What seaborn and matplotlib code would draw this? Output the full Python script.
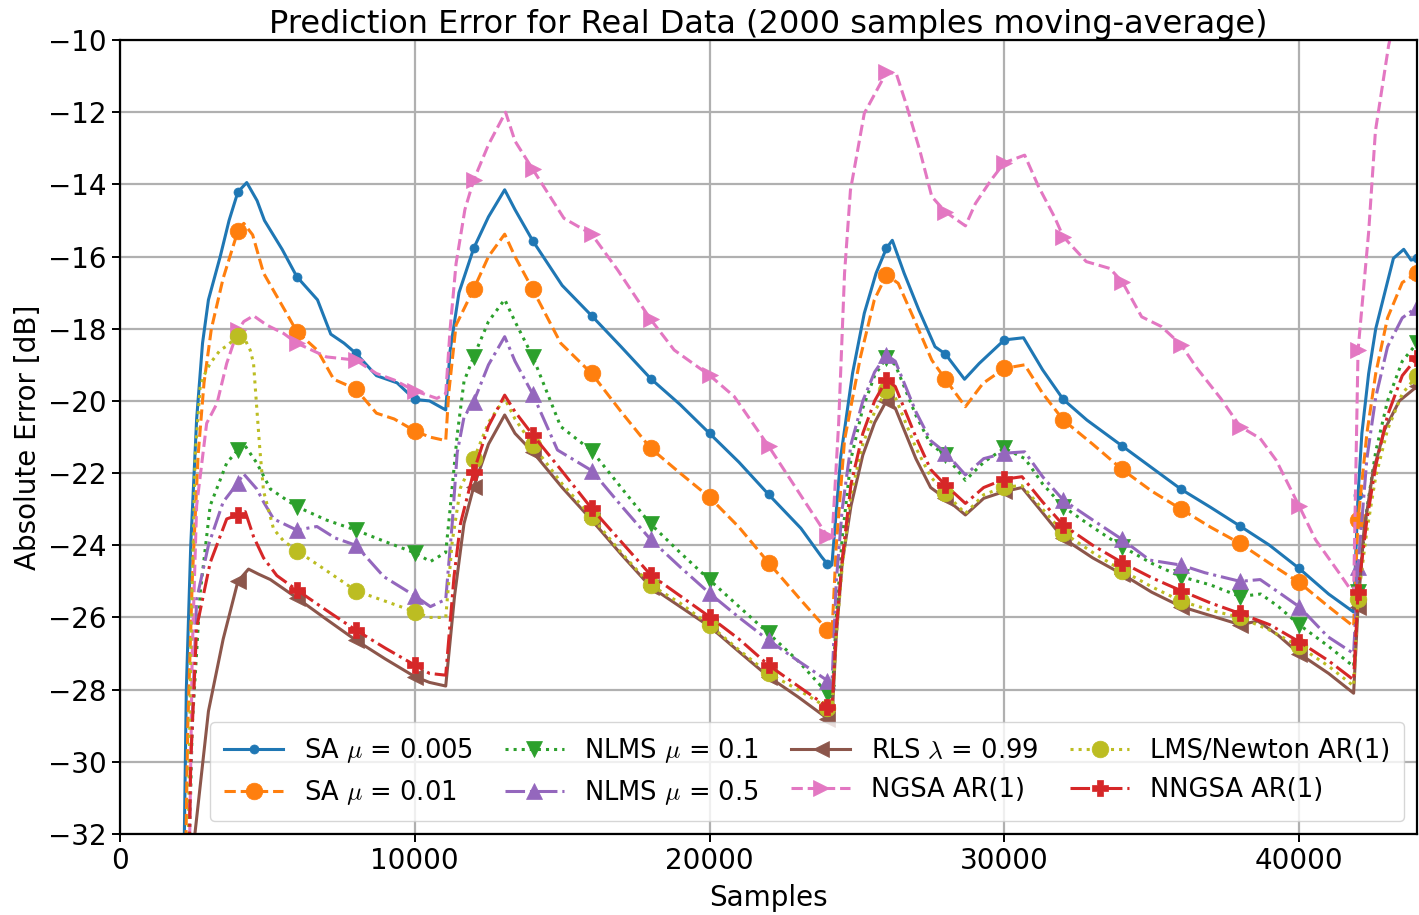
import numpy as np
import pandas as pd
import matplotlib
matplotlib.use("Agg")
import matplotlib.pyplot as plt
import seaborn as sns

# ---------------- data ----------------
sa005_x = [2150, 2250, 2400, 2600, 2800, 3000, 3400, 3700, 4000, 4300, 4650, 4900, 5500, 6000, 6700, 7150, 7600, 8000, 8700, 9400, 10000, 10500, 11050,
           11200, 11500, 12000, 12500, 13050, 13400, 14000, 15000, 16000, 17000, 18000, 19000, 20000, 21000, 22000, 23100, 23800, 24000, 24150,
           24450, 24850, 25250, 25650, 26000, 26200, 26600, 27100, 27650, 28000, 28650, 29150, 30000, 30650, 31300, 32000, 32800, 34000, 35000, 36000, 37000, 38000, 39000, 40000, 41000, 41850,
           42000, 42130, 42360, 42600, 42950, 43200, 43550, 43800, 44000]
sa005_y = [-34, -28, -24, -20.5, -18.4, -17.2, -16.0, -15.0, -14.21, -13.95, -14.45, -15.0, -15.8, -16.56, -17.2, -18.15, -18.4, -18.68, -19.3, -19.5, -19.96, -20.0, -20.25,
           -18.6, -17.0, -15.77, -14.9, -14.15, -14.7, -15.56, -16.8, -17.64, -18.5, -19.38, -20.1, -20.9, -21.7, -22.59, -23.53, -24.32, -24.52, -24.55,
           -21.55, -19.24, -17.57, -16.46, -15.77, -15.55, -16.46, -17.48, -18.5, -18.7, -19.4, -18.96, -18.31, -18.25, -19.14, -19.96, -20.53, -21.25, -21.85, -22.45, -22.95, -23.47, -24.0, -24.64, -25.35, -25.85,
           -22.6, -20.9, -19.24, -18.0, -16.86, -16.05, -15.8, -16.1, -16.05]

sa01_x = [2200, 2300, 2450, 2650, 2850, 3100, 3500, 4000, 4200, 4500, 4870, 5200, 5600, 6000, 6700, 7250, 8000, 8700, 9300, 10000, 10500, 11050,
          11150, 11400, 12000, 12500, 13050, 13400, 14000, 14950, 16000, 17000, 18000, 19000, 20000, 21000, 22000, 23100, 24000, 24150,
          24300, 24580, 25120, 25590, 26000, 26400, 27000, 27540, 28000, 28680, 29280, 30000, 30690, 31300, 32000, 33000, 34000, 35000, 36000, 37000, 38000, 39000, 40000, 41000, 41850,
          42000, 42300, 42600, 43000, 43500, 44000]
sa01_y = [-34, -29, -25, -21.5, -19.5, -18.0, -16.6, -15.29, -15.08, -15.4, -16.46, -16.93, -17.5, -18.08, -18.6, -19.4, -19.67, -20.34, -20.5, -20.83, -21.0, -21.1,
          -19.8, -17.9, -16.9, -16.0, -15.38, -16.0, -16.91, -18.4, -19.24, -20.3, -21.31, -22.0, -22.67, -23.5, -24.48, -25.52, -26.35, -26.5,
          -24.0, -21.08, -18.78, -17.2, -16.51, -16.74, -17.85, -18.87, -19.4, -20.16, -19.51, -19.1, -19.0, -19.79, -20.53, -21.2, -21.9, -22.5, -23.0, -23.5, -23.95, -24.5, -25.03, -25.7, -26.25,
          -23.3, -20.9, -19.24, -17.7, -16.72, -16.46]

nlms01_x = [2250, 2450, 2720, 3060, 3620, 4000, 4190, 4640, 5100, 5660, 6000, 7000, 8000, 9000, 10000, 10530, 11050,
            11210, 11440, 11670, 12000, 12500, 13050, 13400, 14000, 14950, 16000, 17000, 18000, 19000, 20000, 21000, 22000, 23000, 24000, 24150,
            24300, 24500, 24800, 25200, 25600, 26000, 26300, 27000, 27500, 28000, 28680, 29300, 30000, 30700, 31300, 32000, 33000, 34000, 35000, 36000, 37000, 38000, 38700, 39300, 40000, 41000, 41850,
            42000, 42300, 42600, 43000, 43500, 44000]
nlms01_y = [-36, -29, -25.32, -22.9, -21.72, -21.36, -21.18, -21.72, -22.44, -22.75, -22.93, -23.3, -23.58, -23.9, -24.21, -24.45, -24.2,
            -22.9, -20.94, -19.46, -18.77, -17.8, -17.19, -17.8, -18.77, -20.71, -21.38, -22.4, -23.41, -24.2, -24.96, -25.7, -26.44, -27.2, -28.1, -28.3,
            -26.0, -23.8, -21.6, -20.2, -19.3, -18.8, -19.0, -20.4, -21.2, -21.5, -22.2, -21.7, -21.31, -21.6, -22.3, -22.93, -23.5, -24.04, -24.5, -24.87, -25.1, -25.42, -25.35, -25.7, -26.2, -26.8, -27.36,
            -25.3, -23.0, -21.4, -20.0, -18.9, -18.4]

nlms05_x = [2250, 2400, 2600, 3000, 3500, 4000, 4190, 4640, 4870, 5210, 6000, 6680, 7300, 8000, 8950, 10000, 10530, 11050,
            11270, 11440, 11670, 12000, 12500, 13050, 13400, 14000, 14840, 16000, 17000, 18000, 19000, 20000, 21000, 22000, 23000, 24000, 24150,
            24300, 24500, 24800, 25200, 25600, 26000, 26300, 27000, 27500, 28000, 28680, 29300, 30000, 30690, 31300, 32000, 33000, 34000, 34930, 36000, 36800, 38000, 38680, 39300, 40000, 40970, 41850,
            42000, 42300, 42600, 43000, 43500, 44000]
nlms05_y = [-36, -30, -25.5, -24.0, -22.8, -22.27, -22.02, -22.44, -22.8, -23.27, -23.58, -23.48, -23.8, -24.0, -24.87, -25.4, -25.7, -25.5,
            -23.4, -21.43, -20.45, -20.02, -19.0, -18.22, -18.9, -19.81, -21.36, -21.93, -22.9, -23.84, -24.6, -25.33, -26.0, -26.63, -27.2, -27.75, -27.9,
            -25.0, -23.0, -21.2, -20.0, -19.2, -18.73, -18.9, -20.3, -21.1, -21.43, -22.05, -21.6, -21.45, -21.41, -22.1, -22.75, -23.3, -23.84, -24.41, -24.55, -24.76, -25.0, -24.95, -25.3, -25.7, -26.53, -27.0,
            -24.6, -21.6, -19.9, -18.5, -17.7, -17.4]

rls_x = [2350, 2500, 3000, 3500, 4000, 4360, 4700, 5100, 6000, 7000, 8000, 9000, 10000, 10500, 11050,
         11350, 11670, 12000, 12500, 13050, 13400, 14000, 15000, 16000, 17000, 18000, 19000, 20000, 21000, 22000, 23000, 24000, 24150,
         24300, 24500, 24800, 25200, 25600, 26000, 26300, 27000, 27500, 28000, 28680, 29300, 30000, 30600, 31300, 32000, 33000, 34000, 35000, 36000, 37000, 38000, 38600, 39300, 40000, 41000, 41850,
         42000, 42200, 42500, 42900, 43400, 44000]
rls_y = [-36, -32.3, -28.6, -26.6, -25.0, -24.66, -24.8, -24.95, -25.46, -26.05, -26.63, -27.15, -27.64, -27.8, -27.9,
         -25.4, -23.4, -22.38, -21.2, -20.39, -20.9, -21.41, -22.4, -23.3, -24.25, -25.15, -25.7, -26.25, -26.95, -27.64, -28.2, -28.8, -28.9,
         -26.5, -24.5, -22.9, -21.5, -20.6, -20.0, -20.2, -21.6, -22.4, -22.7, -23.16, -22.7, -22.51, -22.4, -23.1, -23.81, -24.35, -24.8, -25.3, -25.7, -25.95, -26.2, -26.1, -26.5, -27.0, -27.55, -28.1,
         -25.7, -23.6, -22.0, -20.8, -20.0, -19.6]

ngsa_x = [2300, 2450, 2600, 2940, 3290, 3620, 4000, 4200, 4530, 4980, 5550, 6000, 7000, 8000, 8700, 9300, 10000, 10750, 11050,
          11200, 11400, 11700, 12000, 12500, 13080, 13400, 14000, 15060, 16000, 16880, 18000, 18800, 20000, 20840, 22000, 23000, 24000, 24150,
          24380, 24580, 24780, 25250, 26000, 26330, 26660, 27130, 27540, 28000, 28680, 29020, 29550, 30000, 30690, 31160, 31700, 32000, 32780, 33580, 34000, 34660, 35330, 36000, 36540, 37340, 38000, 38680, 39220, 40000, 40560, 41370, 41850,
          42000, 42360, 42590, 43040, 43500, 44000]
ngsa_y = [-36, -27, -22.9, -20.62, -20.07, -18.96, -18.04, -17.8, -17.64, -17.9, -18.13, -18.4, -18.78, -18.87, -19.24, -19.42, -19.72, -19.93, -19.8,
          -18.0, -16.2, -14.7, -13.88, -12.9, -12.0, -12.8, -13.58, -14.94, -15.38, -16.37, -17.74, -18.59, -19.29, -19.88, -21.25, -22.5, -23.75, -23.9,
          -20.62, -16.46, -14.16, -12.03, -10.9, -10.92, -11.75, -13.05, -14.34, -14.76, -15.15, -14.53, -13.88, -13.4, -13.19, -14.06, -14.9, -15.45, -16.14, -16.33, -16.7, -17.67, -17.94, -18.45, -19.1, -19.93, -20.71, -21.04, -21.64, -22.91, -23.85, -24.78, -25.35,
          -18.6, -15.32, -12.52, -10.14, -8.5, -7.5]

lmsn_x = [2250, 2400, 2550, 2720, 2830, 3060, 3400, 3620, 4000, 4150, 4420, 4530, 4640, 4750, 4870, 5210, 5550, 6000, 7000, 8000, 9000, 10000, 10500, 11050,
          11270, 11550, 12000, 12500, 13050, 13400, 14000, 15000, 16000, 17000, 18000, 19000, 20000, 21000, 22000, 23000, 24000, 24150,
          24300, 24500, 24800, 25200, 25600, 26000, 26300, 27000, 27500, 28000, 28680, 29300, 30000, 30600, 31300, 32000, 33000, 34000, 35000, 36000, 37000, 38000, 39000, 40000, 41000, 41850,
          42000, 42300, 42600, 43000, 43500, 44000]
lmsn_y = [-36, -27, -21.5, -19.6, -19.33, -18.96, -18.59, -18.48, -18.2, -18.15, -18.6, -18.96, -20.2, -21.4, -22.5, -23.55, -23.88, -24.15, -24.7, -25.26, -25.55, -25.84, -26.0, -26.0,
          -23.9, -22.41, -21.62, -20.6, -19.93, -20.5, -21.22, -22.3, -23.21, -24.2, -25.1, -25.6, -26.21, -26.9, -27.55, -28.0, -28.5, -28.7,
          -26.5, -24.6, -22.6, -21.2, -20.3, -19.7, -19.9, -21.3, -22.1, -22.56, -23.12, -22.6, -22.38, -22.35, -23.0, -23.65, -24.2, -24.7, -25.15, -25.55, -25.8, -26.0, -26.35, -26.8, -27.35, -27.9,
          -25.5, -23.6, -22.1, -20.8, -19.8, -19.3]

nngsa_x = [2270, 2400, 2600, 3060, 3620, 4000, 4250, 4530, 4870, 5320, 6000, 7000, 8000, 9000, 10000, 10500, 11050,
           11330, 11550, 12000, 12500, 13050, 13400, 14000, 15000, 16000, 17000, 18000, 19000, 20000, 21000, 22000, 23000, 24000, 24150,
           24300, 24500, 24800, 25200, 25600, 26000, 26300, 27000, 27500, 28000, 28680, 29300, 30000, 30600, 31300, 32000, 33000, 34000, 35000, 36000, 37000, 38000, 39000, 40000, 41000, 41850,
           42000, 42300, 42600, 43000, 43500, 44000]
nngsa_y = [-36, -30, -26.28, -24.48, -23.27, -23.16, -23.07, -23.76, -24.35, -24.84, -25.24, -25.8, -26.35, -26.85, -27.32, -27.55, -27.6,
           -24.88, -23.4, -21.96, -20.7, -19.84, -20.3, -20.94, -21.95, -22.98, -23.9, -24.82, -25.4, -25.98, -26.6, -27.32, -27.9, -28.47, -28.6,
           -26.3, -24.4, -22.3, -20.9, -20.0, -19.42, -19.6, -21.0, -21.9, -22.33, -22.84, -22.4, -22.17, -22.1, -22.8, -23.44, -24.0, -24.48, -24.9, -25.26, -25.6, -25.89, -26.2, -26.67, -27.2, -27.73,
           -25.3, -23.3, -21.8, -20.4, -19.3, -18.8]

labels = [r"SA $\mu$ = 0.005", r"SA $\mu$ = 0.01", r"NLMS $\mu$ = 0.1", r"NLMS $\mu$ = 0.5",
          r"RLS $\lambda$ = 0.99", "NGSA AR(1)", "LMS/Newton AR(1)", "NNGSA AR(1)"]
xs = [sa005_x, sa01_x, nlms01_x, nlms05_x, rls_x, ngsa_x, lmsn_x, nngsa_x]
ys = [sa005_y, sa01_y, nlms01_y, nlms05_y, rls_y, ngsa_y, lmsn_y, nngsa_y]

colors = ["#1f77b4", "#ff7f0e", "#2ca02c", "#9467bd", "#8c564b", "#e377c2", "#bcbd22", "#d62728"]
styles = ["-", "--", ":", "-.", "-", "--", ":", "-."]
markers = ["o", "o", "v", "^", "<", ">", "o", "P"]
msizes = [6.5, 12, 12, 12, 12, 12, 12, 12]

# ---------------- figure ----------------
plt.rcParams["font.family"] = ["DejaVu Sans"]
plt.rcParams["mathtext.fontset"] = "cm"
plt.rcParams["axes.linewidth"] = 1.6

fig = plt.figure(figsize=(14.19, 9.15), dpi=100)
ax = fig.add_axes([120 / 1419, 1 - 834 / 915, (1417 - 120) / 1419, (834 - 40) / 915])

for x, y, lab, c, ls, mk, ms in zip(xs, ys, labels, colors, styles, markers, msizes):
    df = pd.DataFrame({"x": x, "y": y})
    idx = [i for i, v in enumerate(x) if v % 2000 == 0 and v >= 4000]
    sns.lineplot(data=df, x="x", y="y", ax=ax, color=c, linestyle=ls, linewidth=2.2,
                 marker=mk, markersize=ms, markevery=idx, markeredgecolor=c,
                 markeredgewidth=0.5, label=lab, estimator=None, sort=False)

ax.set_xlim(0, 44000)
ax.set_ylim(-32, -10)
ax.set_xticks([0, 10000, 20000, 30000, 40000])
ax.set_yticks(np.arange(-32, -9, 2))
ax.grid(True, color="#b0b0b0", linewidth=1.6)
ax.set_axisbelow(True)
ax.tick_params(axis="both", labelsize=20, length=6, width=1.4)

ax.set_title("Prediction Error for Real Data (2000 samples moving-average)", fontsize=23, pad=4)
ax.set_xlabel("Samples", fontsize=20, labelpad=6)
ax.set_ylabel("Absolute Error [dB]", fontsize=20, labelpad=4)

h, l = ax.get_legend_handles_labels()
ax.legend(h, l, ncol=4, loc="lower right", fontsize=18.5, columnspacing=1.25,
          handlelength=2.3, borderpad=0.55, labelspacing=0.5)

fig.savefig("out.png", dpi=100)
